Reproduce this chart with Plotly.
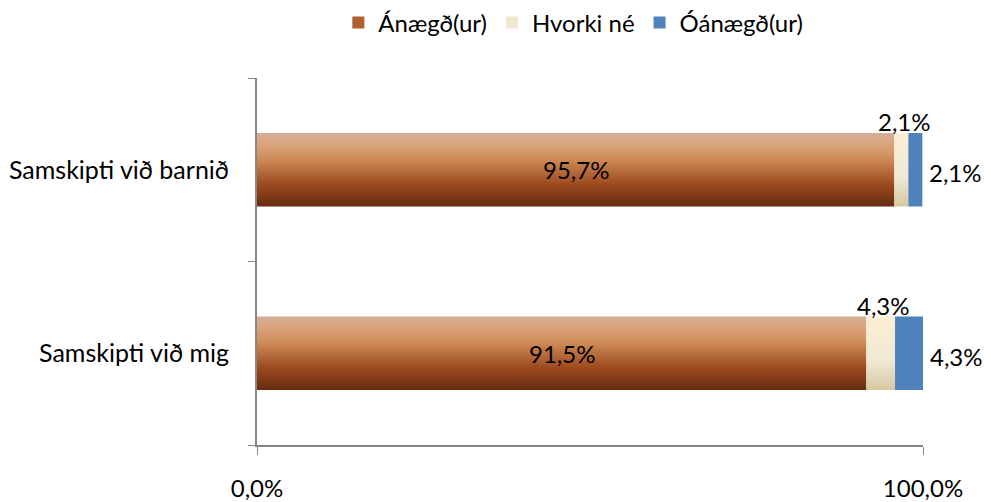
import plotly.graph_objects as go

categories = ["Samskipti við mig", "Samskipti við barnið"]
series_names = ["Ánægð(ur)", "Hvorki né", "Óánægð(ur)"]
anaegd = [91.5, 95.7]
hvorki = [4.3, 2.1]
oanaegd = [4.3, 2.1]
x_tick_vals = [0, 100]
x_tick_text = ["0,0%", "100,0%"]

values = [anaegd, hvorki, oanaegd]
gradients = [
    [[0.0, "#662c10"], [0.3, "#9c4a1e"], [0.65, "#cf8c58"], [0.85, "#d9a47c"], [1.0, "#d8ae98"]],
    [[0.0, "#d8c8a0"], [0.4, "#efe8d4"], [1.0, "#fdefd2"]],
    [[0.0, "#4f81bd"], [1.0, "#4f81bd"]],
]
legend_colors = ["#b0602e", "#f1e8cf", "#4f81bd"]
FONT = "Lato, Carlito, Calibri, sans-serif"
FS = 24
half = 0.2

def fmt(v):
    return f"{v:.1f}".replace(".", ",") + "%"

fig = go.Figure()

# legend swatches (square, like the reference)
for i, name in enumerate(series_names):
    fig.add_trace(go.Bar(x=[None], y=[None], orientation="h", name=name,
                         marker=dict(color=legend_colors[i], line=dict(width=0)),
                         legendgroup=name, showlegend=True, hoverinfo="skip"))

annotations = []
for j, cat in enumerate(categories):
    base = 0.0
    for i, name in enumerate(series_names):
        v = values[i][j]
        x0, x1 = base, base + v
        fig.add_trace(go.Scatter(
            x=[x0, x1, x1, x0, x0],
            y=[j - half, j - half, j + half, j + half, j - half],
            mode="none", fill="toself",
            fillgradient=dict(type="vertical", colorscale=gradients[i]),
            fillcolor=legend_colors[i],
            name=name, legendgroup=name, showlegend=False,
            hoverinfo="skip",
        ))
        if i == 0:
            annotations.append(dict(x=(x0 + x1) / 2, y=j, text=fmt(v), showarrow=False,
                                    xanchor="center", yanchor="middle"))
        elif i == 1:
            annotations.append(dict(x=(x0 + x1) / 2, y=j + half, text=fmt(v), showarrow=False,
                                    xanchor="center", yanchor="bottom", yshift=-5, xshift=3))
        else:
            annotations.append(dict(x=min(x1, 100), y=j, text=fmt(v), showarrow=False,
                                    xanchor="left", yanchor="middle", xshift=5, yshift=-3))
        base = x1

fig.update_layout(
    width=991, height=502,
    margin=dict(l=257, r=68, t=78, b=57, autoexpand=False),
    paper_bgcolor="white", plot_bgcolor="white",
    font=dict(family=FONT, size=FS, color="#000000"),
    showlegend=True,
    legend=dict(orientation="h", x=0.475, xref="paper", xanchor="center",
                y=1.15, yref="paper", yanchor="middle",
                font=dict(size=FS), itemwidth=30, traceorder="normal"),
    annotations=annotations,
    xaxis=dict(range=[0, 100], tickvals=x_tick_vals, ticktext=x_tick_text,
               showgrid=True, gridcolor="#868686", gridwidth=1,
               showline=True, linecolor="#868686", linewidth=2,
               ticks="outside", ticklen=8, tickcolor="#868686",
               ticklabelstandoff=13, zeroline=False, fixedrange=True, automargin=False),
    yaxis=dict(range=[-0.5, 1.5], tickvals=[0, 1], ticktext=categories,
               tickfont=dict(size=25),
               showgrid=False, showline=True, linecolor="#868686", linewidth=2,
               ticks="", ticklabelstandoff=21, zeroline=False, automargin=False,
               minor=dict(tick0=-0.5, dtick=1, ticks="outside", ticklen=7,
                          tickcolor="#868686", tickwidth=1, showgrid=False)),
)

fig.write_html("out.html",
               config={"displayModeBar": False},
               post_script="document.body.style.margin='0';document.body.style.overflow='hidden';")
